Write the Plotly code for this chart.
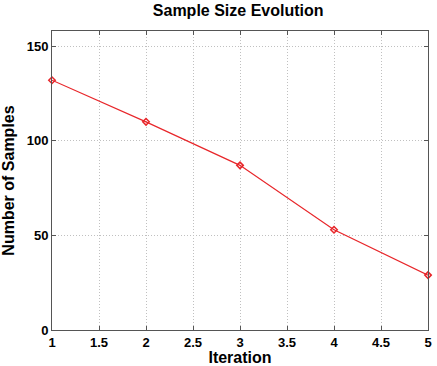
import plotly.graph_objects as go

iterations = [1, 2, 3, 4, 5]
samples = [132, 110, 87, 53, 29]
x_ticks = [1, 1.5, 2, 2.5, 3, 3.5, 4, 4.5, 5]
x_tick_labels = ["1", "1.5", "2", "2.5", "3", "3.5", "4", "4.5", "5"]
y_ticks = [0, 50, 100, 150]

fig = go.Figure()
fig.add_trace(go.Scatter(
    x=iterations, y=samples, mode="lines+markers",
    line=dict(color="#e8262a", width=1.2),
    marker=dict(symbol="diamond-open", size=5, color="#e8262a", line=dict(width=1.5, color="#e8262a")),
    showlegend=False, cliponaxis=False,
))

font = "Liberation Sans, Arial, sans-serif"
fig.update_layout(
    width=437, height=366,
    margin=dict(l=52, r=5, t=31, b=33),
    paper_bgcolor="white", plot_bgcolor="white",
    title=dict(text="<b>Sample Size Evolution</b>", x=0.545, xanchor="center", y=0.988, yanchor="top",
               font=dict(family=font, size=16, color="black")),
    font=dict(family=font, color="black"),
    xaxis=dict(
        range=[1, 5], tickvals=x_ticks, ticktext=["<b>%s</b>" % t for t in x_tick_labels],
        tickfont=dict(size=13, color="black"),
        title=dict(text="<b>Iteration</b>", font=dict(size=16), standoff=0),
        showgrid=True, gridcolor="#c0c0c0", griddash="1px,2px", gridwidth=1,
        showline=True, linecolor="#555", linewidth=1, mirror="ticks",
        ticks="inside", ticklen=4, tickcolor="#555", zeroline=False,
    ),
    yaxis=dict(
        range=[0, 158], tickvals=y_ticks, ticktext=["<b>%d</b>" % t for t in y_ticks],
        tickfont=dict(size=13, color="black"),
        title=dict(text="<b>Number of Samples</b>", font=dict(size=16), standoff=8),
        showgrid=True, gridcolor="#c0c0c0", griddash="1px,2px", gridwidth=1,
        showline=True, linecolor="#555", linewidth=1, mirror="ticks",
        ticks="inside", ticklen=4, tickcolor="#555", zeroline=False,
    ),
)
fig.write_html("out.html", config={"displayModeBar": False},
               post_script="document.body.style.margin='0';document.body.style.overflow='hidden';")
